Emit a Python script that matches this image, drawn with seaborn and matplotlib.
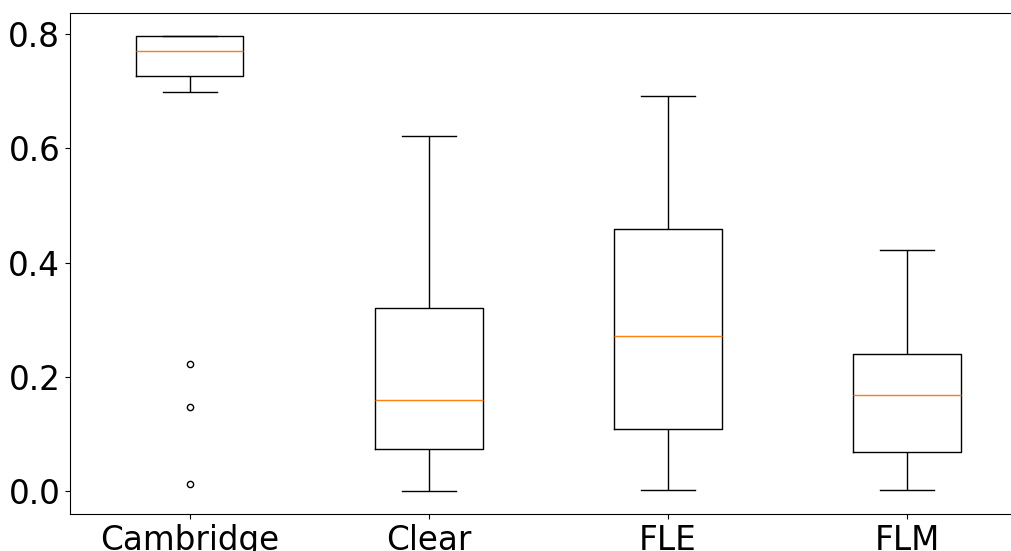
import matplotlib
matplotlib.use("Agg")
import matplotlib.pyplot as plt
import seaborn as sns
import pandas as pd

# valores (amostras que reproduzem quartis, bigodes e outliers)
categorias = ["Cambridge", "Clear", "FLE", "FLM"]
cambridge = [0.013, 0.147, 0.222, 0.699, 0.726, 0.735, 0.748, 0.760, 0.771,
             0.780, 0.788, 0.793, 0.797, 0.797, 0.797, 0.797, 0.797]
clear = [0.0, 0.073, 0.159, 0.320, 0.622]
fle = [0.002, 0.108, 0.271, 0.458, 0.692]
flm = [0.002, 0.068, 0.168, 0.240, 0.422]

valores = [cambridge, clear, fle, flm]
base = pd.DataFrame({
    "grupo": [c for c, v in zip(categorias, valores) for _ in v],
    "valor": [x for v in valores for x in v],
})

fig = plt.figure(figsize=(10.12, 5.51), dpi=100)
ax = fig.add_axes([0.0692, 0.0672, 0.9452, 0.9093])

sns.boxplot(data=base, x="grupo", y="valor", order=categorias, ax=ax,
            fill=False, color="black", width=0.45, linewidth=1, whis=1.5,
            fliersize=4.5,
            medianprops=dict(color="#ff7f0e", linewidth=1),
            flierprops=dict(marker="o", markerfacecolor="none",
                            markeredgecolor="black", markeredgewidth=1))

ax.set_xlim(-0.5, 3.5)
ax.set_ylim(-0.0398, 0.8367)
ax.set_yticks([0.0, 0.2, 0.4, 0.6, 0.8])
ax.set_xlabel("")
ax.set_ylabel("")
ax.tick_params(labelsize=23.5)

plt.savefig("out.png", dpi=100)
